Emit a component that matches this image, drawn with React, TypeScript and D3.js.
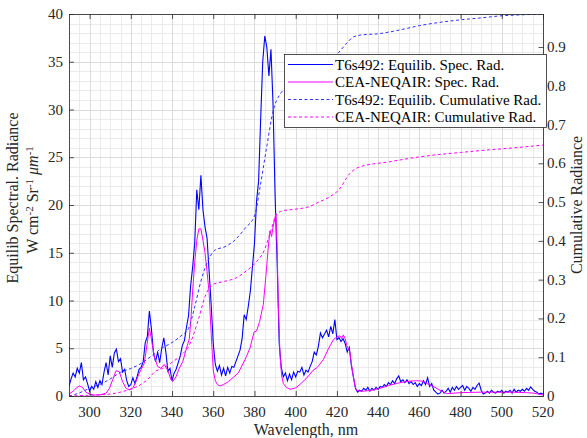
import React from 'react';
import * as d3 from 'd3';

// ---------------- DATA ----------------
// T6s492 equilibrium spectral radiance, 1 nm steps starting at 290 nm
const blueStartWl = 290;
const blueSpec = [
  // 290-299
  1.0, 1.8, 2.4, 2.0, 2.9, 2.4, 3.5, 1.7, 2.0, 1.3,
  // 300-309
  0.5, 1.0, 0.7, 1.5, 0.9, 1.6, 1.2, 2.5, 3.5, 2.2,
  // 310-319
  4.2, 3.0, 4.5, 4.9, 3.6, 3.9, 2.5, 2.8, 1.6, 1.0,
  // 320-329
  1.2, 1.9, 1.3, 2.0, 2.8, 3.0, 3.6, 5.6, 6.2, 8.9,
  // 330-339
  7.0, 4.5, 3.6, 4.6, 3.5, 5.0, 6.1, 4.6, 2.6, 2.9,
  // 340-349
  1.6, 2.4, 2.8, 3.5, 4.2, 5.3, 5.8, 7.2, 8.4, 11.5,
  // 350-359
  13.5, 16.0, 21.6, 19.5, 23.1, 19.5, 17.7, 16.5, 13.0, 9.5,
  // 360-369
  5.5, 3.3, 2.6, 3.2, 2.2, 2.9, 2.1, 3.0, 2.4, 3.1,
  // 370-379
  3.0, 3.6, 4.2, 4.8, 6.0, 8.5, 8.0, 9.4, 11.0, 13.5,
  // 380-389
  16.0, 20.4, 22.5, 29.0, 35.0, 37.7, 36.5, 33.5, 36.3, 30.6,
  // 390-399
  21.0, 14.0, 5.5, 3.0, 2.0, 2.4, 1.6, 2.3, 1.7, 2.5,
  // 400-409
  2.0, 2.6, 2.5, 3.0, 2.2, 2.7, 2.5, 3.1, 3.6, 4.6,
  // 410-419
  4.3, 5.2, 6.6, 6.1, 6.5, 6.9, 6.2, 7.3, 6.5, 8.0,
  // 420-429
  5.9, 6.1, 5.7, 6.0, 5.5, 4.6, 5.1, 3.2, 2.0, 0.8,
  // 430-439
  0.4, 0.6, 0.5, 0.8, 0.6, 0.9, 0.5, 0.8, 0.6, 0.9,
  // 440-449
  0.7, 1.0, 0.9, 1.2, 1.0, 1.4, 1.2, 1.6, 1.3, 1.8,
  // 450-459
  2.1, 1.5, 1.7, 1.4, 1.7, 1.3, 1.5, 1.2, 1.4, 1.0,
  // 460-469
  1.3, 1.1, 1.6, 1.2, 1.9, 1.0, 1.3, 0.6, 0.4, 0.2,
  // 470-479
  0.3, 0.6, 0.3, 0.5, 0.8, 0.4, 0.9, 0.6, 1.0, 0.7,
  // 480-489
  0.9, 1.1, 0.6, 1.0, 0.8, 0.5, 0.9, 0.7, 1.1, 1.35,
  // 490-499
  0.6, 0.2, 0.3, 0.5, 0.3, 0.6, 0.4, 0.3, 0.5, 0.4,
  // 500-509
  0.6, 0.3, 0.5, 0.4, 0.6, 0.3, 0.7, 0.4, 0.6, 0.5,
  // 510-520
  0.7, 0.5, 0.8, 0.6, 0.95, 0.7, 0.5, 0.4, 0.2, 0.3, 0.2,
];

// CEA-NEQAIR spectral radiance
const magWl = [
  290, 292, 293.4, 295, 296.6, 298.2, 300, 302, 305, 308, 309.6, 311.2, 312.8, 314.4, 316, 317.7,
  319.3, 320.9, 322.5, 324.1, 326.5, 328.2, 329, 329.8, 331.4, 333, 334.6, 336.2, 337.9, 339.5,
  340.3, 341.9, 343.5, 345.2, 347, 348.4, 349.3, 350, 351, 352, 353, 354, 355, 356, 357, 358, 359,
  360, 361, 362, 363.3, 365, 367.3, 370, 372.1, 375.4, 377.8, 379.8, 381, 382.5, 384.3, 385.5,
  386.7, 387.5, 388.3, 389.1, 390.4, 391, 391.5, 392.4, 393.2, 394, 395.5, 397.2, 400, 402, 405,
  408.5, 410.5, 413.4, 416, 418.3, 420, 421.5, 422.3, 423.1, 424, 424.8, 426.3, 427, 428, 428.8,
  429.6, 432.8, 436.7, 440.9, 445, 450.6, 455, 458.7, 461.9, 464.5, 466.8, 470, 473.3, 480, 489.5,
  500, 505.7, 512, 515.4, 518, 520,
];
const magSpec = [
  0.2, 0.5, 0.8, 1.05, 0.9, 0.4, 0.2, 0.1, 0.12, 0.3, 0.8, 1.7, 2.65, 2.55, 1.5, 0.8,
  0.65, 0.8, 1.5, 2.4, 3.4, 5.9, 7.1, 6.2, 4.1, 3.1, 2.9, 3.3, 2.7, 1.7,
  1.5, 2.0, 2.9, 3.6, 5.0, 6.0, 8.5, 11, 14, 16.3, 17.5, 17.5, 16.3, 15, 13, 10.8, 6.5,
  2.7, 1.6, 1.2, 1.05, 1.2, 1.5, 2.0, 2.4, 3.8, 5.0, 6.7, 6.8, 7.8, 9.6, 12.5,
  15.6, 17.3, 16.7, 17.8, 19.1, 15.6, 10, 4.2, 2.1, 1.3, 0.9, 0.7, 0.85, 1.2, 1.8,
  2.7, 3.0, 3.8, 5.0, 5.9, 6.2, 6.3, 6.0, 6.4, 6.0, 5.3, 4.6, 3.4, 2.0, 1.0,
  0.56, 0.5, 0.6, 0.8, 1.1, 1.4, 1.55, 1.6, 1.55, 1.2, 1.0, 0.6, 0.25, 0.35, 0.4,
  0.4, 0.4, 0.35, 0.3, 0.2, 0.1,
];

// Cumulative radiance (right axis)
const blueCumWl = [
  290, 295, 300, 305, 310, 315, 320, 325, 330, 335, 340, 345, 348, 351, 354, 357.6, 360.8, 365.7,
  370.5, 375.4, 380.2, 382.7, 385.9, 389.1, 392.4, 394, 400, 405, 410, 415, 420.7, 425, 428, 432,
  440, 450.6, 460, 466.8, 480, 490, 499, 510, 520,
];
const blueCum = [
  0, 0.008, 0.02, 0.03, 0.044, 0.061, 0.071, 0.084, 0.103, 0.123, 0.138, 0.158, 0.174, 0.23, 0.296,
  0.351, 0.376, 0.385, 0.402, 0.432, 0.467, 0.538, 0.641, 0.736, 0.778, 0.788, 0.798, 0.813, 0.832,
  0.857, 0.885, 0.911, 0.926, 0.931, 0.934, 0.944, 0.955, 0.961, 0.97, 0.975, 0.98, 0.983, 0.985,
];
const magCumWl = [
  290, 300, 305, 310, 315, 320, 325, 328, 332, 335.4, 340, 345, 348, 352.7, 356, 359.2, 365.7, 370.5,
  375.4, 380.2, 385, 387.5, 390.8, 394, 397, 407, 410, 416.6, 421, 426.3, 431.2, 445.7, 455.5, 470,
  480, 490, 504, 520,
];
const magCum = [
  0, 0.002, 0.003, 0.005, 0.01, 0.018, 0.03, 0.042, 0.064, 0.071, 0.087, 0.108, 0.127, 0.196, 0.256,
  0.286, 0.296, 0.303, 0.32, 0.342, 0.379, 0.418, 0.469, 0.478, 0.48, 0.489, 0.497, 0.514, 0.532,
  0.574, 0.591, 0.604, 0.613, 0.623, 0.628, 0.633, 0.639, 0.647,
];

const xTicks = [300, 320, 340, 360, 380, 400, 420, 440, 460, 480, 500, 520];
const yLeftTicks = [0, 5, 10, 15, 20, 25, 30, 35, 40];
const yRightTicks = [0, 0.1, 0.2, 0.3, 0.4, 0.5, 0.6, 0.7, 0.8, 0.9];
const xMinorTicks = d3.range(290, 521, 5);
const yMinorTicks = d3.range(0, 41, 1);

const legendItems = [
  { label: 'T6s492: Equilib. Spec. Rad.', color: '#0000ff', dash: null },
  { label: 'CEA-NEQAIR: Spec. Rad.', color: '#ff00ff', dash: null },
  { label: 'T6s492: Equilib. Cumulative Rad.', color: '#3030ff', dash: '3,2.5' },
  { label: 'CEA-NEQAIR: Cumulative Rad.', color: '#ff00ff', dash: '3,2.5' },
];

// ---------------- CHART ----------------
const W = 587;
const H = 438;
const L = 69, R = 543, T = 14, B = 396;
const FONT = "'Liberation Serif', 'Times New Roman', serif";
const AX = '#262626';
const txt = { fontFamily: FONT };

export default function App() {
  const x = d3.scaleLinear().domain([290, 520]).range([L, R]);
  const yL = d3.scaleLinear().domain([0, 40]).range([B, T]);
  const yR = d3.scaleLinear().domain([0, 0.985]).range([B, T]);

  const blueData = blueSpec.map((v, i) => [blueStartWl + i, v] as [number, number]);
  const magData = magWl.map((w, i) => [w, magSpec[i]] as [number, number]);
  const bcData = blueCumWl.map((w, i) => [w, blueCum[i]] as [number, number]);
  const mcData = magCumWl.map((w, i) => [w, magCum[i]] as [number, number]);

  const lineL = d3.line<[number, number]>().x(d => x(d[0])).y(d => yL(d[1]));
  const lineR = d3.line<[number, number]>().x(d => x(d[0])).y(d => yR(d[1])).curve(d3.curveMonotoneX);

  const legX = 284, legY = 54, legW = 262, legH = 73;
  const rowY = [64.5, 82, 99.5, 117];

  return (
    <svg width={W} height={H} style={{ position: 'absolute', left: 0, top: 0, background: '#fff' }}>
      <rect x={0} y={0} width={W} height={H} fill="#fff" />
      <defs>
        <clipPath id="plot">
          <rect x={L} y={T} width={R - L} height={B - T} />
        </clipPath>
      </defs>
      {/* minor grid */}
      <g stroke="#ebebeb" strokeWidth={1}>
        {xMinorTicks.map(t => (
          <line key={'xm' + t} x1={Math.round(x(t)) + 0.5} x2={Math.round(x(t)) + 0.5} y1={T} y2={B} />
        ))}
        {yMinorTicks.map(t => (
          <line key={'ym' + t} x1={L} x2={R} y1={Math.round(yL(t)) + 0.5} y2={Math.round(yL(t)) + 0.5} />
        ))}
      </g>
      {/* major grid */}
      <g stroke="#dcdcdc" strokeWidth={1}>
        {xTicks.map(t => (
          <line key={'xg' + t} x1={Math.round(x(t)) + 0.5} x2={Math.round(x(t)) + 0.5} y1={T} y2={B} />
        ))}
        {yLeftTicks.map(t => (
          <line key={'yg' + t} x1={L} x2={R} y1={Math.round(yL(t)) + 0.5} y2={Math.round(yL(t)) + 0.5} />
        ))}
      </g>

      {/* data */}
      <g clipPath="url(#plot)" fill="none">
        <path d={lineL(blueData) || ''} stroke="#0000ff" strokeWidth={1.1} />
        <path d={lineL(magData) || ''} stroke="#ff00ff" strokeWidth={1} />
        <path d={lineR(bcData) || ''} stroke="#3030ff" strokeWidth={1} strokeDasharray="3,2.5" />
        <path d={lineR(mcData) || ''} stroke="#ff00ff" strokeWidth={1} strokeDasharray="3,2.5" />
      </g>

      {/* axes box */}
      <rect x={L + 0.5} y={T + 0.5} width={R - L} height={B - T} fill="none" stroke={AX} strokeWidth={0.8} />

      {/* ticks */}
      <g stroke={AX} strokeWidth={0.8}>
        {xTicks.map(t => (
          <g key={'xt' + t}>
            <line x1={x(t) + 0.5} x2={x(t) + 0.5} y1={B} y2={B - 5} />
            <line x1={x(t) + 0.5} x2={x(t) + 0.5} y1={T} y2={T + 5} />
          </g>
        ))}
        {yLeftTicks.map(t => (
          <line key={'ylt' + t} x1={L} x2={L + 5} y1={yL(t) + 0.5} y2={yL(t) + 0.5} />
        ))}
        {yRightTicks.map(t => (
          <line key={'yrt' + t} x1={R + 0.5} x2={R - 4.5} y1={yR(t) + 0.5} y2={yR(t) + 0.5} />
        ))}
      </g>

      {/* tick labels */}
      <g fill={AX}>
        {xTicks.map(t => (
          <text key={'xl' + t} x={x(t)} y={417} textAnchor="middle" fontSize={15} style={txt}>{t}</text>
        ))}
        {yLeftTicks.map(t => (
          <text key={'yl' + t} x={63} y={yL(t) + 5} textAnchor="end" fontSize={15} style={txt}>{t}</text>
        ))}
        {yRightTicks.map(t => (
          <text key={'yr' + t} x={547} y={yR(t) + 5} textAnchor="start" fontSize={15} style={txt}>{t === 0 ? '0' : t.toFixed(1)}</text>
        ))}
      </g>

      {/* axis labels */}
      <text x={(L + R) / 2} y={435} textAnchor="middle" fontSize={16} fill={AX} style={txt}>Wavelength, nm</text>
      <text transform="translate(18,198) rotate(-90)" textAnchor="middle" fontSize={16} fill={AX} style={txt}>
        Equilib Spectral. Radiance
      </text>
      <text transform="translate(38,200) rotate(-90)" textAnchor="middle" fontSize={16} fill={AX} style={txt}>
        W cm<tspan dy={-5} fontSize={11}>-2</tspan>
        <tspan dy={5}> Sr</tspan><tspan dy={-5} fontSize={11}>-1</tspan>
        <tspan dy={5}> </tspan><tspan fontStyle="italic">μm</tspan>
        <tspan dy={-5} fontSize={11}>-1</tspan>
      </text>
      <text transform="translate(582,205) rotate(-90)" textAnchor="middle" fontSize={16} fill={AX} style={txt}>
        Cumulative Radiance
      </text>

      {/* legend */}
      <rect x={legX + 0.5} y={legY + 0.5} width={legW} height={legH} fill="#fff" stroke={AX} strokeWidth={0.8} />
      {legendItems.map((it, i) => (
        <g key={'lg' + i}>
          <line x1={288} x2={333} y1={rowY[i]} y2={rowY[i]} stroke={it.color} strokeWidth={1}
            strokeDasharray={it.dash || undefined} />
          <text x={335} y={rowY[i] + 5} fontSize={15} fill="#000" style={txt}>{it.label}</text>
        </g>
      ))}
    </svg>
  );
}
